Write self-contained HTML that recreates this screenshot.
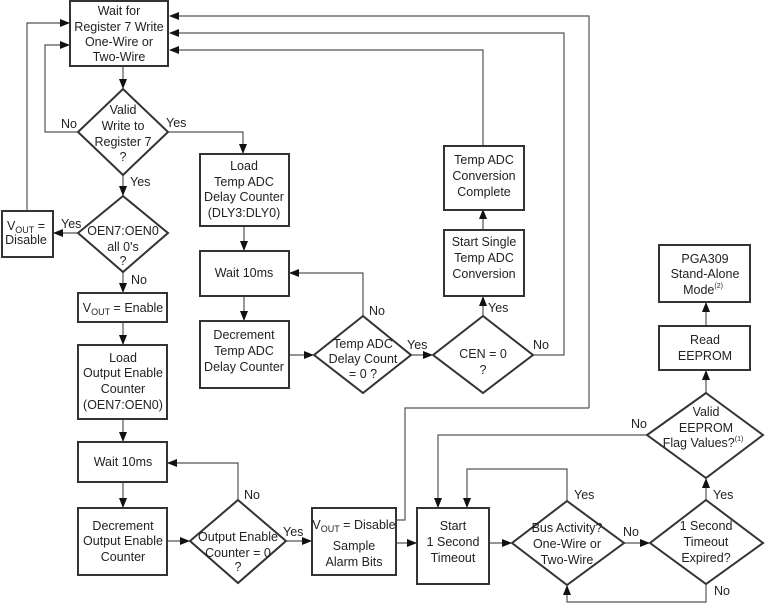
<!DOCTYPE html>
<html><head><meta charset="utf-8"><style>
html,body{margin:0;padding:0;background:#fff;}
svg{display:block;}
text{font-family:"Liberation Sans",sans-serif;font-size:12.5px;fill:#222;text-anchor:middle;}
.b{fill:#fff;stroke:#333;stroke-width:2;}
.l{fill:none;stroke:#555;stroke-width:1.2;}
.lab{text-anchor:start;}
</style></head><body>
<svg width="766" height="604" viewBox="0 0 766 604" xmlns="http://www.w3.org/2000/svg">
<defs><marker id="a" markerWidth="10" markerHeight="8" refX="9" refY="4" orient="auto" markerUnits="userSpaceOnUse"><path d="M0,0 L10,4 L0,8 z" fill="#111"/></marker></defs>

<!-- connectors -->
<path class="l" d="M589,408 V16 H170" marker-end="url(#a)"/>
<path class="l" d="M533,355 H564 V33 H170" marker-end="url(#a)"/>
<path class="l" d="M483,146 V50 H170" marker-end="url(#a)"/>
<path class="l" d="M27,210 V23 H69" marker-end="url(#a)"/>
<path class="l" d="M78,132 H45 V45 H69" marker-end="url(#a)"/>
<path class="l" d="M123,66 V88" marker-end="url(#a)"/>
<path class="l" d="M168,132 H243 V153" marker-end="url(#a)"/>
<path class="l" d="M123,175 V195" marker-end="url(#a)"/>
<path class="l" d="M78,233 H54" marker-end="url(#a)"/>
<path class="l" d="M123,272 V292" marker-end="url(#a)"/>
<path class="l" d="M123,322 V344" marker-end="url(#a)"/>
<path class="l" d="M123,419 V441" marker-end="url(#a)"/>
<path class="l" d="M123,482 V507" marker-end="url(#a)"/>
<path class="l" d="M167,541 H189" marker-end="url(#a)"/>
<path class="l" d="M238,500 V463 H168" marker-end="url(#a)"/>
<path class="l" d="M286,541 H311" marker-end="url(#a)"/>
<path class="l" d="M396,520 H405 V408 H589"/>
<path class="l" d="M396,543 H416" marker-end="url(#a)"/>
<path class="l" d="M489,543 H511" marker-end="url(#a)"/>
<path class="l" d="M567,501 V469 H467 V507" marker-end="url(#a)"/>
<path class="l" d="M624,543 H649" marker-end="url(#a)"/>
<path class="l" d="M706,584 V602 H567 V586" marker-end="url(#a)"/>
<path class="l" d="M706,500 V479" marker-end="url(#a)"/>
<path class="l" d="M647,435 H438 V507" marker-end="url(#a)"/>
<path class="l" d="M706,393 V371" marker-end="url(#a)"/>
<path class="l" d="M706,326 V303" marker-end="url(#a)"/>
<path class="l" d="M244,226 V250" marker-end="url(#a)"/>
<path class="l" d="M244,296 V320" marker-end="url(#a)"/>
<path class="l" d="M289,355 H313" marker-end="url(#a)"/>
<path class="l" d="M363,316 V273 H290" marker-end="url(#a)"/>
<path class="l" d="M411,355 H432" marker-end="url(#a)"/>
<path class="l" d="M483,316 V297" marker-end="url(#a)"/>
<path class="l" d="M483,230 V210" marker-end="url(#a)"/>

<!-- boxes -->
<rect class="b" x="70" y="1" width="98" height="65"/>
<text x="119" y="15">Wait for</text><text x="119" y="31">Register 7 Write</text><text x="119" y="46">One-Wire or</text><text x="119" y="61">Two-Wire</text>

<polygon class="b" points="123,89 168,132 123,175 78,132"/>
<text x="123" y="114">Valid</text><text x="123" y="130">Write to</text><text x="123" y="146">Register 7</text><text x="123" y="161">?</text>
<text class="lab" x="61" y="128">No</text><text class="lab" x="166" y="127">Yes</text><text class="lab" x="130" y="186">Yes</text>

<rect class="b" x="200" y="154" width="89" height="72"/>
<text x="244" y="170">Load</text><text x="244" y="186">Temp ADC</text><text x="244" y="201">Delay Counter</text><text x="244" y="217">(DLY3:DLY0)</text>

<rect class="b" x="2" y="211" width="51" height="46"/>
<text x="26" y="230">V<tspan font-size="9" dy="3">OUT</tspan><tspan dy="-3"> =</tspan></text><text x="26" y="244">Disable</text>
<text class="lab" x="61" y="228">Yes</text>

<polygon class="b" points="123,196 168,233 123,272 78,233"/>
<text x="123" y="235">OEN7:OEN0</text><text x="123" y="251">all 0's</text><text x="123" y="265">?</text>
<text class="lab" x="131" y="284">No</text>

<rect class="b" x="78" y="293" width="89" height="29"/>
<text x="123" y="312">V<tspan font-size="9" dy="3">OUT</tspan><tspan dy="-3"> = Enable</tspan></text>

<rect class="b" x="78" y="345" width="89" height="74"/>
<text x="123" y="362">Load</text><text x="123" y="377">Output Enable</text><text x="123" y="393">Counter</text><text x="123" y="409">(OEN7:OEN0)</text>

<rect class="b" x="78" y="442" width="89" height="40"/>
<text x="123" y="466">Wait 10ms</text>

<rect class="b" x="78" y="508" width="89" height="67"/>
<text x="123" y="530">Decrement</text><text x="123" y="545">Output Enable</text><text x="123" y="561">Counter</text>

<polygon class="b" points="238,500 286,541 238,583 190,541"/>
<text x="238" y="541" font-size="11.5">Output Enable</text><text x="238" y="557" font-size="11.5">Counter = 0</text><text x="238" y="571" font-size="11.5">?</text>
<text class="lab" x="244" y="499">No</text><text class="lab" x="283" y="536">Yes</text>

<rect class="b" x="312" y="508" width="84" height="67"/>
<text x="354" y="529">V<tspan font-size="9" dy="3">OUT</tspan><tspan dy="-3"> = Disable</tspan></text><text x="354" y="550">Sample</text><text x="354" y="566">Alarm Bits</text>

<rect class="b" x="417" y="508" width="72" height="76"/>
<text x="453" y="530">Start</text><text x="453" y="546">1 Second</text><text x="453" y="562">Timeout</text>

<polygon class="b" points="567,501 624,543 567,585 512,543"/>
<text x="567" y="532" font-size="11.5">Bus Activity?</text><text x="567" y="548" font-size="11.5">One-Wire or</text><text x="567" y="564" font-size="11.5">Two-Wire</text>
<text class="lab" x="574" y="499">Yes</text><text class="lab" x="623" y="536">No</text>

<polygon class="b" points="706,500 763,543 706,584 650,543"/>
<text x="706" y="530">1 Second</text><text x="706" y="546">Timeout</text><text x="706" y="562">Expired?</text>
<text class="lab" x="713" y="499">Yes</text><text class="lab" x="714" y="595">No</text>

<polygon class="b" points="706,393 763,435 706,478 647,435"/>
<text x="706" y="416">Valid</text><text x="706" y="432">EEPROM</text><text x="703" y="447">Flag Values?<tspan font-size="7" dy="-6">(1)</tspan></text>
<text class="lab" x="631" y="428">No</text>

<rect class="b" x="659" y="326" width="91" height="44"/>
<text x="705" y="344">Read</text><text x="705" y="360">EEPROM</text>

<rect class="b" x="659" y="245" width="91" height="57"/>
<text x="705" y="263">PGA309</text><text x="705" y="278">Stand-Alone</text><text x="703" y="294">Mode<tspan font-size="7" dy="-6">(2)</tspan></text>

<rect class="b" x="200" y="251" width="89" height="45"/>
<text x="244" y="277">Wait 10ms</text>

<rect class="b" x="200" y="321" width="89" height="67"/>
<text x="244" y="339">Decrement</text><text x="244" y="355">Temp ADC</text><text x="244" y="371">Delay Counter</text>

<polygon class="b" points="363,316 411,355 363,393 314,355"/>
<text x="363" y="348" font-size="11.5">Temp ADC</text><text x="363" y="363" font-size="11.5">Delay Count</text><text x="363" y="378" font-size="11.5">= 0 ?</text>
<text class="lab" x="369" y="315">No</text><text class="lab" x="407" y="349">Yes</text>

<polygon class="b" points="483,316 533,355 483,393 433,355"/>
<text x="483" y="358">CEN = 0</text><text x="483" y="374">?</text>
<text class="lab" x="488" y="312">Yes</text><text class="lab" x="533" y="349">No</text>

<rect class="b" x="444" y="230" width="80" height="66"/>
<text x="484" y="246">Start Single</text><text x="484" y="262">Temp ADC</text><text x="484" y="278">Conversion</text>

<rect class="b" x="444" y="146" width="80" height="64"/>
<text x="484" y="164">Temp ADC</text><text x="484" y="180">Conversion</text><text x="484" y="196">Complete</text>
</svg>
</body></html>
